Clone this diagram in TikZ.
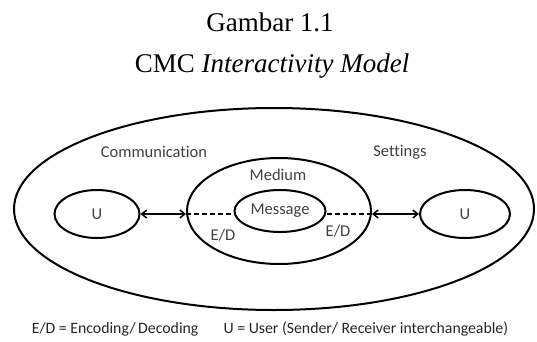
\documentclass[tikz,border=0pt]{standalone}
\usepackage{fontspec}
\setmainfont{Liberation Serif}
\newfontfamily\labelfont[Ligatures=NoCommon]{Carlito}
\usetikzlibrary{shapes.geometric,arrows.meta}
\definecolor{labelgray}{HTML}{404040}
\tikzset{
  ring/.style={draw, ellipse, line width=2pt, inner sep=0pt},
  lbl/.style={font=\labelfont\fontsize{16.5}{19}\selectfont, text=labelgray, inner sep=0pt},
  link/.style={line width=1.5pt, {Straight Barb[length=5pt,width=8pt]}-{Straight Barb[length=5pt,width=8pt]}},
  dashlink/.style={line width=1.5pt, dash pattern=on 5pt off 3pt},
  title/.style={font=\fontsize{27}{32}\selectfont, inner sep=0pt, anchor=base}
}
\begin{document}
\begin{tikzpicture}[x=1pt,y=1pt]
\useasboundingbox (0,0) rectangle (537,341);
% heading
\node[title] (t1) at (270,309) {Gambar 1.1};
\node[title] (t2) at (272,269) {CMC \textit{Interactivity Model}};
% nested ellipses
\node[ring, minimum width=520pt, minimum height=202pt] (outer) at (274,132) {};
\node[ring, minimum width=184pt, minimum height=106pt] (med) at (279,130) {};
\node[ring, minimum width=91pt, minimum height=42pt, lbl] (msg) at (280,130) {Message};
\node[ring, minimum width=85pt, minimum height=48pt, lbl] (uL) at (97,127) {U};
\node[ring, minimum width=90pt, minimum height=48pt, lbl] (uR) at (465,127) {U};
% labels
\node[lbl] (comm) at (154,189) {Communication};
\node[lbl] (sett) at (400,189) {Settings};
\node[lbl] (medl) at (278,166) {Medium};
\node[lbl] (edL) at (223,106) {E/D};
\node[lbl] (edR) at (338,110) {E/D};
% connectors
\coordinate (mL) at (med.west |- uL.east);
\coordinate (mR) at (med.east |- uR.west);
\draw[link] (uL.east) -- (mL);
\draw[dashlink] (mL) -- (msg.west |- mL);
\draw[dashlink] (msg.east |- mR) -- (mR);
\draw[link] (mR) -- (uR.west);
% legend
\node[lbl, text=black!85, font=\labelfont\fontsize{15.8}{19}\selectfont] (legend) at (270,12) {E/D = Encoding/\,Decoding\hspace{1.6em}U = User (Sender/ Receiver interchangeable)};
\end{tikzpicture}
\end{document}
